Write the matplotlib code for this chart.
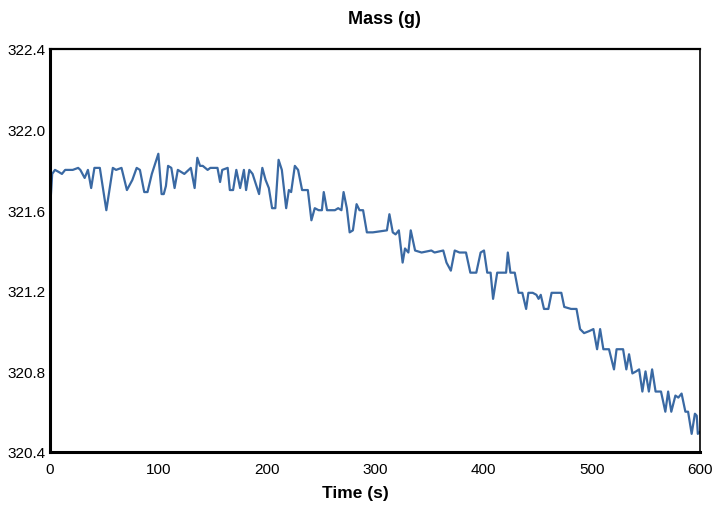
import matplotlib
matplotlib.use("Agg")
import matplotlib.pyplot as plt

plt.rcParams['font.family'] = ['Liberation Sans', 'DejaVu Sans']

time_s = [0, 2, 4.6, 8, 11, 14, 21, 26, 28, 32, 35, 38, 41, 46, 52, 58, 61, 66, 71, 76,
          80, 83, 87, 90, 94, 100, 103, 105, 107, 109, 112, 115, 118, 121, 124, 128, 130,
          133.5, 136, 138.5, 141, 145.5, 148, 154.6, 157, 159, 164, 166, 169, 172, 175.5,
          179, 181, 184, 187, 190, 193, 196, 199, 202, 205, 208, 211, 214, 218, 220.5,
          222.6, 226, 229, 232.7, 238, 241.3, 244.4, 248, 251, 252.7, 255.7, 263, 266,
          269, 271, 274, 276.6, 279.6, 283, 285.7, 289, 292.5, 298, 311, 313.3, 316.4,
          319, 322, 325.5, 327.7, 330.8, 333, 337, 343, 352, 355, 363, 366, 370, 373.6,
          378, 384, 388, 393.5, 397.5, 400.6, 403.6, 406.7, 409, 412.8, 421, 422.6, 425,
          429, 432.5, 436, 439.5, 441.6, 445.6, 449, 451, 453, 456, 460, 463, 468.6, 472,
          474.7, 481, 486, 489.3, 493, 497.7, 501.6, 505, 507.8, 510.8, 516, 520.6, 523,
          529, 532, 534.5, 537.6, 541, 543.8, 546.8, 549.7, 552.8, 555.8, 559, 564, 568,
          570.6, 573.5, 577.3, 580, 583, 586.5, 589, 592.3, 595.3, 597, 598, 600]

mass_g = [321.60, 321.78, 321.80, 321.79, 321.78, 321.80, 321.80, 321.81, 321.80, 321.76,
          321.80, 321.71, 321.81, 321.81, 321.60, 321.81, 321.80, 321.81, 321.70, 321.75,
          321.81, 321.80, 321.69, 321.69, 321.78, 321.88, 321.68, 321.68, 321.72, 321.82,
          321.81, 321.71, 321.80, 321.79, 321.78, 321.80, 321.81, 321.71, 321.86, 321.82,
          321.82, 321.80, 321.81, 321.81, 321.74, 321.80, 321.81, 321.70, 321.70, 321.80,
          321.71, 321.80, 321.70, 321.80, 321.78, 321.73, 321.68, 321.81, 321.75, 321.71,
          321.61, 321.61, 321.85, 321.80, 321.61, 321.70, 321.69, 321.82, 321.80, 321.70,
          321.70, 321.55, 321.61, 321.60, 321.60, 321.69, 321.60, 321.60, 321.61, 321.60,
          321.69, 321.61, 321.49, 321.50, 321.63, 321.60, 321.60, 321.49, 321.49, 321.50,
          321.58, 321.49, 321.48, 321.50, 321.34, 321.41, 321.39, 321.50, 321.40, 321.39,
          321.40, 321.39, 321.40, 321.34, 321.30, 321.40, 321.39, 321.39, 321.29, 321.29,
          321.39, 321.40, 321.29, 321.29, 321.16, 321.29, 321.29, 321.39, 321.29, 321.29,
          321.19, 321.19, 321.11, 321.19, 321.19, 321.18, 321.16, 321.18, 321.11, 321.11,
          321.19, 321.19, 321.19, 321.12, 321.11, 321.11, 321.01, 320.99, 321.00, 321.01,
          320.91, 321.01, 320.91, 320.91, 320.81, 320.91, 320.91, 320.81, 320.885, 320.79,
          320.80, 320.81, 320.70, 320.80, 320.70, 320.81, 320.70, 320.70, 320.60, 320.70,
          320.60, 320.68, 320.67, 320.69, 320.60, 320.60, 320.49, 320.59, 320.58, 320.49,
          320.50]

x_ticks = [0, 100, 200, 300, 400, 500, 600]
y_ticks = [320.4, 320.8, 321.2, 321.6, 322.0, 322.4]

fig = plt.figure(figsize=(7.17, 5.06), dpi=100)
ax = fig.add_axes([50/717, 1-453/506, 650/717, 403/506])
ax.plot(time_s, mass_g, color='#3a69a3', linewidth=1.6, solid_joinstyle='round')
ax.set_xlim(0, 600)
ax.set_ylim(320.4, 322.4)
ax.set_xticks(x_ticks)
ax.set_xticklabels([str(v) for v in x_ticks])
ax.set_yticks(y_ticks)
ax.set_yticklabels([f"{v:.1f}" for v in y_ticks])
ax.tick_params(length=0, labelsize=11, colors='black')
ax.tick_params(axis='x', pad=7)
ax.tick_params(axis='y', pad=3)
ax.spines['left'].set_linewidth(2.2)
ax.spines['bottom'].set_linewidth(2.2)
ax.spines['top'].set_linewidth(1.6)
ax.spines['right'].set_linewidth(1.2)
for s in ax.spines.values():
    s.set_color('black')

fig.text(384/717, 1-20/506, 'Mass (g)', ha='center', va='center',
         fontsize=13, fontweight='bold')
fig.text(355/717, 1-494/506, 'Time (s)', ha='center', va='center',
         fontsize=12.5, fontweight='bold')

fig.savefig('out.png', dpi=100)
